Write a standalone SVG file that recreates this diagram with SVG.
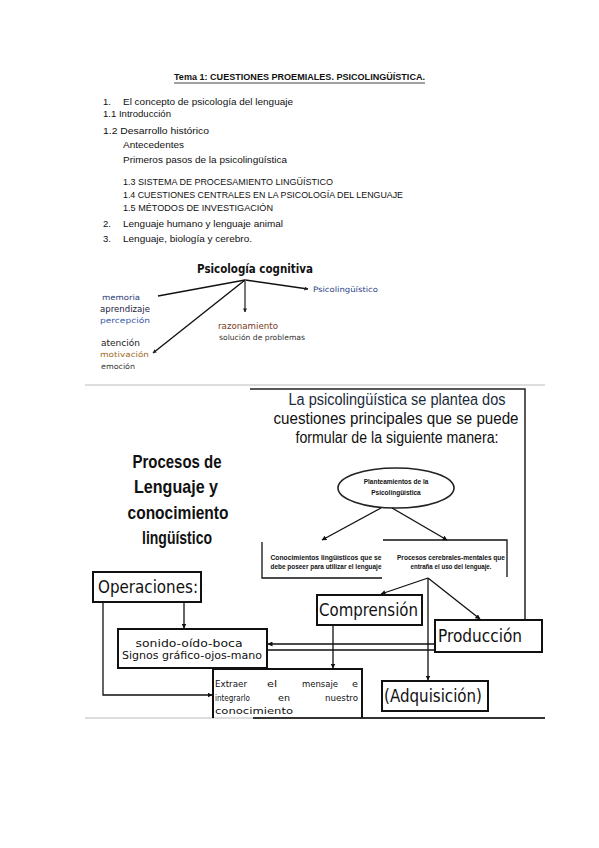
<svg xmlns="http://www.w3.org/2000/svg" width="599" height="848" viewBox="0 0 599 848">
<defs>
<marker id="ah" viewBox="0 0 10 10" refX="9" refY="5" markerWidth="5" markerHeight="5" orient="auto" markerUnits="userSpaceOnUse"><path d="M0,0 L10,5 L0,10 z" fill="#111"/></marker>
<marker id="ahs" viewBox="0 0 10 10" refX="9" refY="5" markerWidth="4" markerHeight="4" orient="auto" markerUnits="userSpaceOnUse"><path d="M0,0 L10,5 L0,10 z" fill="#222"/></marker>
</defs>
<style>
.cal{font-family:"Liberation Sans",Arial,sans-serif;fill:#111}
.list{font-size:9.5px}
.cg{font-family:"DejaVu Sans","Liberation Sans",sans-serif}
.sm{font-size:7.5px}
.big{font-size:17px;fill:#111}
.mid{font-size:10.5px;fill:#111}
.ex{font-size:9.5px;fill:#111}
.box{fill:none;stroke:#111;stroke-width:2}
.ln{fill:none;stroke:#111;stroke-width:1.3}
.tiny{font-family:"Liberation Sans",Arial,sans-serif;font-size:6.5px;font-weight:bold;fill:#111}
</style>
<rect width="599" height="848" fill="#fff"/>

<g id="header">
<text class="cal" x="174" y="80" font-size="9.5" font-weight="bold" textLength="251" lengthAdjust="spacingAndGlyphs">Tema 1: CUESTIONES PROEMIALES. PSICOLINGÜÍSTICA.</text>
<line x1="174" y1="83" x2="425" y2="83" stroke="#111" stroke-width="0.8"/>
</g>

<g id="index" class="cal list">
<text x="103" y="105">1.</text><text x="123" y="105" textLength="170" lengthAdjust="spacingAndGlyphs">El concepto de psicología del lenguaje</text>
<text x="103" y="117" textLength="68" lengthAdjust="spacingAndGlyphs">1.1 Introducción</text>
<text x="103" y="134" textLength="106" lengthAdjust="spacingAndGlyphs">1.2 Desarrollo histórico</text>
<text x="123" y="148" textLength="61" lengthAdjust="spacingAndGlyphs">Antecedentes</text>
<text x="123" y="163" textLength="164" lengthAdjust="spacingAndGlyphs">Primeros pasos de la psicolingüística</text>
<text x="123" y="185" textLength="210" lengthAdjust="spacingAndGlyphs">1.3 SISTEMA DE PROCESAMIENTO LINGÜÍSTICO</text>
<text x="123" y="198" textLength="280" lengthAdjust="spacingAndGlyphs">1.4 CUESTIONES CENTRALES EN LA PSICOLOGÍA DEL LENGUAJE</text>
<text x="123" y="211" textLength="150" lengthAdjust="spacingAndGlyphs">1.5 MÉTODOS DE INVESTIGACIÓN</text>
<text x="103" y="227">2.</text><text x="123" y="227" textLength="160" lengthAdjust="spacingAndGlyphs">Lenguaje humano y lenguaje animal</text>
<text x="103" y="242">3.</text><text x="123" y="242" textLength="129" lengthAdjust="spacingAndGlyphs">Lenguaje, biología y cerebro.</text>
</g>

<g id="cognitive">
<g id="cog-connectors" stroke="#111" stroke-width="1.4" fill="none">
<line x1="245" y1="280" x2="158" y2="296"/>
<line x1="245" y1="280" x2="308" y2="289" marker-end="url(#ahs)"/>
<line x1="245" y1="280" x2="245" y2="312" stroke="#777" stroke-width="2" marker-end="url(#ahs)"/>
<line x1="245" y1="280" x2="153" y2="353" marker-end="url(#ahs)"/>
</g>
<g id="cog-title"><text class="cg" x="255" y="273" font-size="12" font-weight="bold" fill="#111" text-anchor="middle" textLength="116" lengthAdjust="spacingAndGlyphs">Psicología cognitiva</text></g>
<g id="cog-psicoling"><text class="cg sm" x="313" y="292" fill="#2d3f8a" textLength="65" lengthAdjust="spacingAndGlyphs">Psicolingüístico</text></g>
<g id="cog-left1" class="cg sm">
<text x="102" y="300" fill="#2a3b7a" textLength="38" lengthAdjust="spacingAndGlyphs">memoria</text>
<text x="100" y="312" fill="#1c2340" font-size="8.5" textLength="50" lengthAdjust="spacingAndGlyphs">aprendizaje</text>
<text x="100" y="323" fill="#3a5aa8" textLength="50" lengthAdjust="spacingAndGlyphs">percepción</text>
</g>
<g id="cog-left2" class="cg sm">
<text x="101" y="346" fill="#222" font-size="8.5" textLength="39" lengthAdjust="spacingAndGlyphs">atención</text>
<text x="100" y="357" fill="#a06a28" textLength="49" lengthAdjust="spacingAndGlyphs">motivación</text>
<text x="101" y="369" fill="#333" textLength="34" lengthAdjust="spacingAndGlyphs">emoción</text>
</g>
<g id="cog-razon" class="cg sm">
<text x="218" y="329" fill="#7a3a18" font-size="8.5" textLength="60" lengthAdjust="spacingAndGlyphs">razonamiento</text>
<text x="219" y="340" fill="#333" textLength="86" lengthAdjust="spacingAndGlyphs">solución de problemas</text>
</g>
</g>

<g id="frame">
<line x1="85" y1="385" x2="545" y2="385" stroke="#ddd" stroke-width="2"/>
<path d="M250,389 H525 V620" fill="none" stroke="#222" stroke-width="1.5"/>
<line x1="85" y1="718" x2="545" y2="718" stroke="#ddd" stroke-width="2"/>
<line x1="253" y1="718" x2="545" y2="718" stroke="#333" stroke-width="2"/>
</g>

<g id="intro-text" class="cal" font-size="16">
<text x="397" y="405" text-anchor="middle" fill="#1c2a3a" textLength="217" lengthAdjust="spacingAndGlyphs">La psicolingüística se plantea dos</text>
<text x="396" y="424" text-anchor="middle" textLength="245" lengthAdjust="spacingAndGlyphs">cuestiones principales que se puede</text>
<text x="397" y="443" text-anchor="middle" textLength="203" lengthAdjust="spacingAndGlyphs">formular de la siguiente manera:</text>
</g>

<g id="title-left" class="cal" font-size="19" font-weight="bold" text-anchor="middle">
<text x="177" y="468" textLength="89" lengthAdjust="spacingAndGlyphs">Procesos de</text>
<text x="176" y="493" textLength="84" lengthAdjust="spacingAndGlyphs">Lenguaje y</text>
<text x="178" y="519" textLength="101" lengthAdjust="spacingAndGlyphs">conocimiento</text>
<text x="177" y="544" textLength="70" lengthAdjust="spacingAndGlyphs">lingüístico</text>
</g>

<g id="planteamientos">
<ellipse cx="396" cy="488" rx="58" ry="20" fill="#fff" stroke="#222" stroke-width="1.6"/>
<text class="tiny" x="396" y="484" text-anchor="middle">Planteamientos de la</text>
<text class="tiny" x="396" y="495" text-anchor="middle">Psicolingüística</text>
</g>

<g id="conocimientos">
<path d="M262,542 V578 H382" class="ln"/>
<text class="tiny" x="326" y="560" text-anchor="middle" textLength="111" lengthAdjust="spacingAndGlyphs">Conocimientos lingüísticos que se</text>
<text class="tiny" x="326" y="569" text-anchor="middle" textLength="111" lengthAdjust="spacingAndGlyphs">debe poseer para utilizar el lenguaje</text>
</g>

<g id="procesos-cerebrales">
<path d="M383,540 H507 V577" class="ln"/>
<text class="tiny" x="451" y="560" text-anchor="middle" textLength="108" lengthAdjust="spacingAndGlyphs">Procesos cerebrales-mentales que</text>
<text class="tiny" x="451" y="569" text-anchor="middle" textLength="81" lengthAdjust="spacingAndGlyphs">entraña el uso del lenguaje.</text>
</g>

<g id="operaciones">
<rect x="93" y="572" width="108" height="30" class="box"/>
<text class="cg big" x="98" y="593" textLength="100" lengthAdjust="spacingAndGlyphs">Operaciones:</text>
</g>

<g id="comprension">
<rect x="317" y="595" width="105" height="30" class="box"/>
<text class="cg big" x="319" y="616" textLength="99" lengthAdjust="spacingAndGlyphs">Comprensión</text>
</g>

<g id="produccion">
<rect x="435" y="620" width="107" height="32" class="box"/>
<text class="cg big" x="438" y="642" textLength="84" lengthAdjust="spacingAndGlyphs">Producción</text>
</g>

<g id="adquisicion">
<rect x="382" y="681" width="106" height="30" class="box"/>
<text class="cg big" x="384" y="702" textLength="98" lengthAdjust="spacingAndGlyphs">(Adquisición)</text>
</g>

<g id="sonido">
<rect x="118" y="629" width="149" height="39" class="box"/>
<text class="cg mid" x="189" y="647" text-anchor="middle" fill="#333" textLength="107" lengthAdjust="spacingAndGlyphs">sonido-oído-boca</text>
<text class="cg mid" x="192" y="659" text-anchor="middle" textLength="140" lengthAdjust="spacingAndGlyphs">Signos gráfico-ojos-mano</text>
</g>

<g id="extraer">
<path d="M213,718 V669 H362 V718" class="box"/>
<g class="cg ex">
<text x="215" y="687" textLength="32" lengthAdjust="spacingAndGlyphs">Extraer</text>
<text x="267" y="687" textLength="10" lengthAdjust="spacingAndGlyphs">el</text>
<text x="302" y="687" textLength="36" lengthAdjust="spacingAndGlyphs">mensaje</text>
<text x="352" y="687" textLength="6" lengthAdjust="spacingAndGlyphs">e</text>
<text x="215" y="701" textLength="35" lengthAdjust="spacingAndGlyphs">integrarlo</text>
<text x="278" y="701" textLength="12" lengthAdjust="spacingAndGlyphs">en</text>
<text x="325" y="701" textLength="33" lengthAdjust="spacingAndGlyphs">nuestro</text>
<text x="215" y="714" textLength="78" lengthAdjust="spacingAndGlyphs">conocimiento</text>
</g>
</g>

<g id="connectors" fill="none" stroke="#111" stroke-width="1.3">
<line x1="381" y1="508" x2="322" y2="540" marker-end="url(#ah)"/>
<line x1="392" y1="508" x2="447" y2="540" marker-end="url(#ah)"/>
<line x1="428" y1="578" x2="381" y2="594" marker-end="url(#ah)"/>
<line x1="428" y1="578" x2="480" y2="619" marker-end="url(#ah)"/>
<line x1="428" y1="578" x2="428" y2="680" marker-end="url(#ah)"/>
<line x1="184" y1="603" x2="184" y2="628" marker-end="url(#ah)"/>
<path d="M103,603 V695 H212" marker-end="url(#ah)"/>
<line x1="333" y1="626" x2="333" y2="668" marker-end="url(#ah)"/>
<line x1="434" y1="644" x2="268" y2="644" marker-end="url(#ah)"/>
<line x1="434" y1="650" x2="268" y2="650"/>
</g>
</svg>
